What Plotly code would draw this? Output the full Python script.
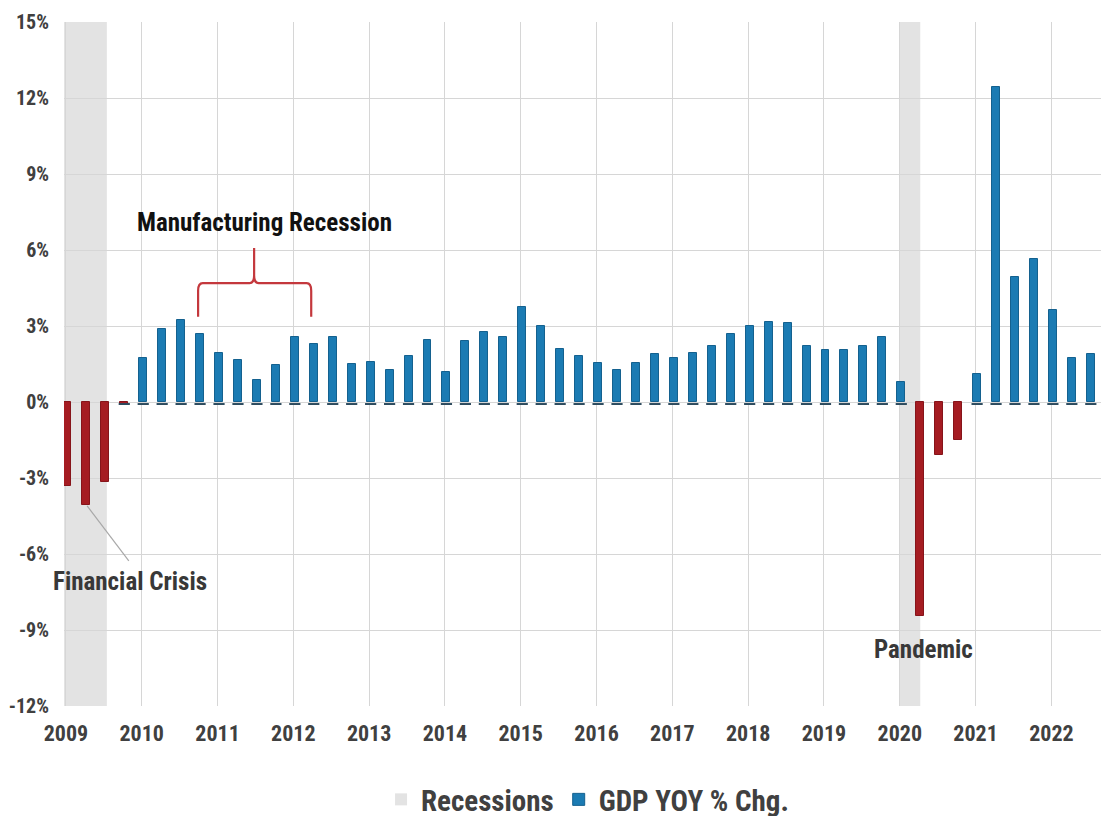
import plotly.graph_objects as go

# ---------- data ----------
years = list(range(2009, 2023))
quarters = [y + q / 4 for y in years for q in range(4)]
gdp_yoy = [
    -3.30, -4.05, -3.15, -0.10,   # 2009
    1.75, 2.90, 3.25, 2.70,       # 2010
    1.95, 1.65, 0.85, 1.45,       # 2011
    2.55, 2.30, 2.55, 1.50,       # 2012
    1.57, 1.25, 1.80, 2.45,       # 2013
    1.20, 2.40, 2.78, 2.55,       # 2014
    3.75, 3.00, 2.10, 1.80,       # 2015
    1.55, 1.25, 1.55, 1.90,       # 2016
    1.75, 1.95, 2.20, 2.70,       # 2017
    3.00, 3.15, 3.10, 2.20,       # 2018
    2.05, 2.05, 2.20, 2.55,       # 2019
    0.80, -8.45, -2.10, -1.50,    # 2020
    1.10, 12.45, 4.95, 5.65,      # 2021
    3.65, 1.75, 1.90, 0.80,       # 2022
]
rec_start = [2008.9, 2020.0]
rec_end = [2009.54, 2020.27]
y_ticks = [-12, -9, -6, -3, 0, 3, 6, 9, 12, 15]
y_labels = [f"{v}%" for v in y_ticks]
x_labels = [str(y) for y in years]

FONT = "Liberation Sans Narrow, Arial Narrow, Roboto Condensed, Liberation Sans, sans-serif"
BLUE, BLUE_EDGE = '#1b7bb3', '#14618f'
RED, RED_EDGE = '#a51c22', '#86141a'
BAR_W = 0.105
SHIFT = 0.02   # bars sit a hair to the right of the year gridlines

pos_x = [x for x, v in zip(quarters, gdp_yoy) if v >= 0]
pos_y = [v for v in gdp_yoy if v >= 0]
neg_x = [x for x, v in zip(quarters, gdp_yoy) if v < 0]
neg_y = [v for v in gdp_yoy if v < 0]

fig = go.Figure()

# legend-only entry for the recession shading (bands are drawn as shapes)
fig.add_trace(go.Bar(x=[None], y=[None], name='Recessions',
                     marker=dict(color='#e3e3e3', line=dict(width=0))))

fig.add_trace(go.Bar(
    x=pos_x, y=pos_y, width=BAR_W, offset=-BAR_W / 2 + SHIFT, name='GDP YOY % Chg.',
    marker=dict(color=BLUE, line=dict(color=BLUE_EDGE, width=1)),
))
fig.add_trace(go.Bar(
    x=neg_x, y=neg_y, width=BAR_W, offset=-BAR_W / 2 + SHIFT,
    name='GDP YOY % Chg. (neg)', showlegend=False,
    marker=dict(color=RED, line=dict(color=RED_EDGE, width=1)),
))
# little dark base dashes under the positive bars
dash_x = [x + SHIFT for x in pos_x + [quarters[3]]]
fig.add_trace(go.Scatter(
    x=dash_x, y=[-0.08] * len(dash_x), mode='markers', showlegend=False,
    marker=dict(symbol='line-ew', size=8, line=dict(width=2, color='#2d4b5e')),
    hoverinfo='skip',
))

shapes = []
for s, e in zip(rec_start, rec_end):
    shapes.append(dict(type='rect', xref='x', yref='y', x0=s, x1=e, y0=-12, y1=15,
                       fillcolor='#e3e3e3', line=dict(width=0), layer='below'))

# red brace over the manufacturing recession
x0, x1, xc = 2010.744, 2012.236, 2011.483
yb, ym, yt = 3.37, 4.69, 6.08
brace = (f"M {x0},{yb} L {x0},{ym - 0.3} Q {x0},{ym} {x0 + 0.06},{ym} "
         f"L {xc - 0.06},{ym} Q {xc},{ym} {xc},{ym + 0.3} L {xc},{yt} "
         f"M {xc},{ym + 0.3} Q {xc},{ym} {xc + 0.06},{ym} "
         f"L {x1 - 0.06},{ym} Q {x1},{ym} {x1},{ym - 0.3} L {x1},{yb}")
shapes.append(dict(type='path', xref='x', yref='y', path=brace,
                   line=dict(color='#c4383d', width=2.2)))
# leader line for Financial Crisis
shapes.append(dict(type='line', xref='x', yref='y', x0=2009.28, y0=-4.1, x1=2009.83, y1=-6.27,
                   line=dict(color='#a8a8a8', width=1.2)))

annotations = [
    dict(x=2011.62, y=7.1, text='<b>Manufacturing Recession</b>', showarrow=False,
         font=dict(family=FONT, size=25, color='#111111')),
    dict(x=2009.85, y=-7.1, text='<b>Financial Crisis</b>', showarrow=False,
         font=dict(family=FONT, size=25, color='#383838')),
    dict(x=2020.31, y=-9.75, text='<b>Pandemic</b>', showarrow=False,
         font=dict(family=FONT, size=25, color='#383838')),
]

fig.update_layout(
    width=1109, height=816,
    margin=dict(l=56, r=8, t=14, b=118),
    plot_bgcolor='white', paper_bgcolor='white',
    barmode='overlay', bargap=0,
    shapes=shapes, annotations=annotations,
    showlegend=True,
    legend=dict(orientation='h', xanchor='center', x=0.501,
                yref='container', yanchor='middle', y=0.03,
                font=dict(family=FONT, size=29, color='#404040', weight='bold'),
                itemwidth=30, bgcolor='rgba(0,0,0,0)'),
    xaxis=dict(
        range=[2008.975, 2022.76],
        tickvals=years, ticktext=x_labels,
        showgrid=True, gridcolor='#d6d6d6', gridwidth=1,
        zeroline=False, showline=False, ticks='',
        ticklabelstandoff=12, automargin=False,
        tickfont=dict(family=FONT, size=22, color='#404040', weight='bold'),
    ),
    yaxis=dict(
        range=[-12, 15],
        tickvals=y_ticks, ticktext=y_labels,
        showgrid=True, gridcolor='#d6d6d6', gridwidth=1,
        zeroline=True, zerolinecolor='#d6d6d6', zerolinewidth=1,
        showline=False, ticks='',
        ticklabelstandoff=14, automargin=False,
        tickfont=dict(family=FONT, size=20, color='#404040', weight='bold'),
    ),
)

fig.write_html("out.html")
